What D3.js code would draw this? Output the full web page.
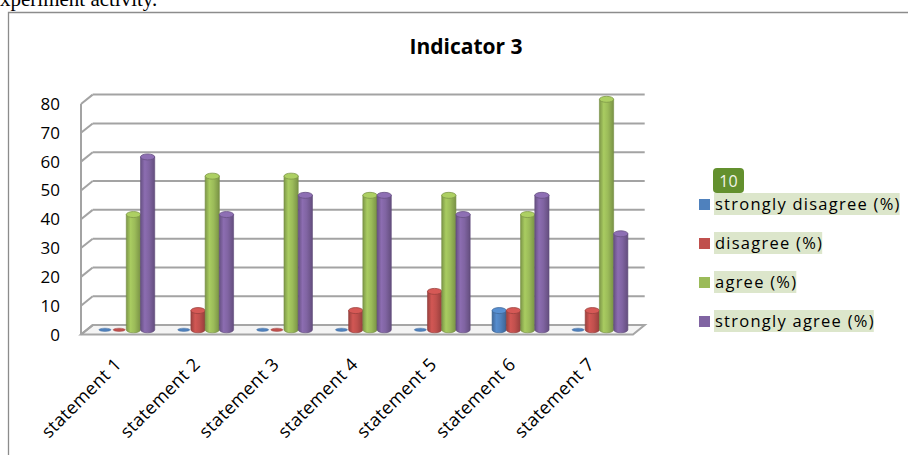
<!DOCTYPE html>
<html><head><meta charset="utf-8">
<script src="https://cdn.jsdelivr.net/npm/d3@7"></script>
<style>html,body{margin:0;padding:0;background:#fff;overflow:hidden}</style>
</head><body>
<svg id="c" width="908" height="455"></svg>
<script>
const categories = ["statement 1","statement 2","statement 3","statement 4","statement 5","statement 6","statement 7"];
const seriesNames = ["strongly disagree (%)","disagree (%)","agree (%)","strongly agree (%)"];
const stronglyDisagree = [0, 0, 0, 0, 0, 6.67, 0];
const disagree = [0, 6.67, 0, 6.67, 13.33, 6.67, 6.67];
const agree = [40, 53.33, 53.33, 46.67, 46.67, 40, 80];
const stronglyAgree = [60, 40, 46.67, 46.67, 40, 46.67, 33.33];
const yTicks = [0, 10, 20, 30, 40, 50, 60, 70, 80];
const colors = ["#4F81BD", "#C0504D", "#9BBB59", "#8064A2"];
const seriesValues = [stronglyDisagree, disagree, agree, stronglyAgree];

const svg = d3.select("#c");
const FONT = "'Open Sans', sans-serif";

// preceding document text (cut off at top of the picture)
svg.append("text").attr("x", 0).attr("y", 6).attr("font-family", "'Liberation Serif', serif")
  .attr("font-size", 21).attr("fill", "#000").text("xperiment activity.");

// chart border
svg.append("path").attr("d", "M8.5,460 V12.5 H920").attr("fill", "none").attr("stroke", "#8c8c8c").attr("stroke-width", 1.3);

// title
svg.append("text").attr("x", 466).attr("y", 54).attr("text-anchor", "middle")
  .attr("font-family", FONT).attr("font-weight", "bold").attr("font-size", 21).attr("fill", "#000").text("Indicator 3");

// 3D geometry
const DX = 11.7, DY = -9.4;
const x = d3.scaleBand().domain(categories).range([81, 633]);
const y = d3.scaleLinear().domain([0, 80]).range([334.5, 104]); // front plane
const xs = d3.scaleBand().domain(seriesNames).range([0, x.bandwidth()]).paddingInner(0).paddingOuter(0.77);

const g = svg.append("g");
const x0 = x.range()[0], x1 = x.range()[1];

// floor
g.append("path")
  .attr("d", `M${x0},${y(0)} L${x1},${y(0)} L${x1+DX},${y(0)+DY} L${x0+DX},${y(0)+DY} Z`)
  .attr("fill", "#f4f4f4").attr("stroke", "#a6a6a6").attr("stroke-width", 2);

// gridlines on back wall + side diagonals
yTicks.forEach(t => {
  if (t > 0) {
    g.append("line").attr("x1", x0 + DX).attr("x2", x1 + DX).attr("y1", y(t) + DY).attr("y2", y(t) + DY)
      .attr("stroke", "#a3a3a3").attr("stroke-width", 2);
  }
  g.append("line").attr("x1", x0).attr("x2", x0 + DX).attr("y1", y(t)).attr("y2", y(t) + DY)
    .attr("stroke", "#a3a3a3").attr("stroke-width", 2);
});
// side wall front edge
g.append("line").attr("x1", x0).attr("x2", x0).attr("y1", y(80)).attr("y2", y(0))
  .attr("stroke", "#a3a3a3").attr("stroke-width", 2);

// y axis labels
svg.append("g").selectAll("text").data(yTicks).join("text")
  .attr("x", 60).attr("y", d => y(d) + 6).attr("text-anchor", "end")
  .attr("font-family", FONT).attr("font-size", 17).attr("fill", "#000").text(d => d);

// gradients
const defs = svg.append("defs");
colors.forEach((c, i) => {
  const base = d3.color(c);
  const gr = defs.append("linearGradient").attr("id", "gr" + i).attr("x1", "0").attr("x2", "1").attr("y1", "0").attr("y2", "0");
  gr.append("stop").attr("offset", "0%").attr("stop-color", base.darker(0.6));
  gr.append("stop").attr("offset", "30%").attr("stop-color", base.brighter(0.25));
  gr.append("stop").attr("offset", "60%").attr("stop-color", base);
  gr.append("stop").attr("offset", "100%").attr("stop-color", base.darker(0.7));
});

// bars (cylinders), mid-depth
const mdx = DX / 2, mdy = DY / 2;
const bars = g.append("g");
categories.forEach((cat, ci) => {
  seriesNames.forEach((s, si) => {
    const v = seriesValues[si][ci];
    const bx = x(cat) + xs(s) + mdx;
    const w = xs.bandwidth();
    const cx = bx + w / 2;
    const yb = y(0) + mdy, yt = y(v) + mdy;
    const rx = w / 2, ry = 3;
    const base = d3.color(colors[si]);
    if (v > 0) {
      bars.append("path")
        .attr("d", `M${bx},${yt} L${bx},${yb} A${rx},${ry} 0 0 0 ${bx + w},${yb} L${bx + w},${yt} Z`)
        .attr("fill", `url(#gr${si})`).attr("stroke", base.darker(0.8)).attr("stroke-width", 0.6);
      bars.append("ellipse").attr("cx", cx).attr("cy", yt).attr("rx", rx).attr("ry", ry)
        .attr("fill", base.brighter(0.3)).attr("stroke", base.darker(0.6)).attr("stroke-width", 0.8);
    } else {
      bars.append("ellipse").attr("cx", cx).attr("cy", yb).attr("rx", rx * 0.85).attr("ry", 1.6)
        .attr("fill", base).attr("stroke", base.darker(0.5)).attr("stroke-width", 0.5);
    }
  });
});

// category labels
svg.append("g").selectAll("text").data(categories).join("text")
  .attr("text-anchor", "end")
  .attr("transform", d => `translate(${x(d) + x.bandwidth() / 2 + 2},${y(0) + 31}) rotate(-45)`)
  .attr("font-family", FONT).attr("font-size", 18).attr("letter-spacing", 0.3).attr("fill", "#000").text(d => d);

// legend
const legY = [204, 243, 282, 321];
const leg = svg.append("g");
seriesNames.forEach((s, i) => {
  const gi = leg.append("g").attr("transform", `translate(0,${legY[i]})`);
  const t = gi.append("text").attr("x", 715).attr("y", 6).attr("font-family", FONT).attr("font-size", 16.5)
    .attr("letter-spacing", 1.25).attr("fill", "#000").text(s);
  const w = t.node().getBBox().width;
  gi.insert("rect", "text").attr("x", 714).attr("y", -11).attr("width", w).attr("height", 22).attr("fill", "#DCE6CB");
  gi.append("rect").attr("x", 699).attr("y", -5).attr("width", 11).attr("height", 11).attr("fill", colors[i]);
});
// badge
leg.append("rect").attr("x", 713).attr("y", 168).attr("width", 31).attr("height", 25).attr("rx", 4).attr("fill", "#63902E");
leg.append("text").attr("x", 728.5).attr("y", 187).attr("text-anchor", "middle").attr("font-family", FONT)
  .attr("font-size", 16).attr("fill", "#f2f5e8").text("10");
</script>
</body></html>
